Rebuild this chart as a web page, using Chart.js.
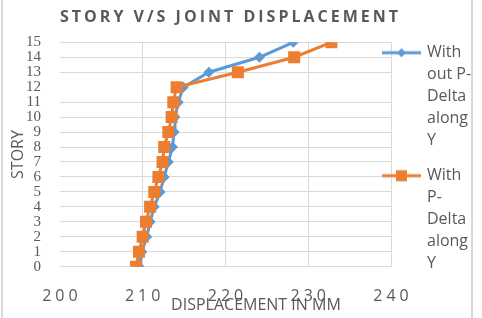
<!DOCTYPE html>
<html>
<head>
<meta charset="utf-8">
<script src="https://cdn.jsdelivr.net/npm/chart.js@4.4.1/dist/chart.umd.min.js"></script>
<style>
  html, body { margin: 0; padding: 0; background: #ffffff; }
  #wrap { position: relative; width: 482px; height: 318px; overflow: hidden; }
  #frame { position: absolute; left: 1px; top: -2px; width: 468px; height: 330px; border-left: 2px solid #d9d9d9; border-right: 2px solid #d9d9d9; }
  canvas { position: absolute; left: 0; top: 0; }
</style>
</head>
<body>
<div id="wrap">
  <div id="frame"></div>
  <canvas id="c" width="482" height="318"></canvas>
</div>
<script>
// ---- data ----
const stories = [0, 1, 2, 3, 4, 5, 6, 7, 8, 9, 10, 11, 12, 13, 14, 15];
const withoutPDelta = [209.6, 209.9, 210.5, 210.9, 211.4, 212.1, 212.6, 213.1, 213.6, 213.8, 213.9, 214.3, 214.9, 218.0, 224.1, 228.2];
const withPDelta    = [209.2, 209.55, 210.0, 210.4, 210.9, 211.4, 211.9, 212.4, 212.6, 213.1, 213.5, 213.7, 214.1, 221.5, 228.3, 232.8];
const seriesNames = ['With out P-Delta along Y', 'With P-Delta along Y'];
const legendLines = [['With', 'out P-', 'Delta', 'along', 'Y'], ['With', 'P-', 'Delta', 'along', 'Y']];
const xTicks = [200, 210, 220, 230, 240];
const yTicks = stories;
const chartTitle = 'STORY V/S JOINT DISPLACEMENT';
const xTitle = 'DISPLACEMENT IN MM';
const yTitle = 'STORY';

const BLUE = '#5B9BD5';
const ORANGE = '#ED7D31';
const GREY = '#595959';
const GRID = '#d9d9d9';
const TITLE_FONT = { family: 'Open Sans', size: 16, weight: 'bold' };

function toPoints(xs) { return xs.map((v, i) => ({ x: v, y: stories[i] })); }

function legendSymbol(color, kind) {
  const c = document.createElement('canvas');
  c.width = 39; c.height = 14;
  const g = c.getContext('2d');
  g.strokeStyle = color; g.lineWidth = 3;
  g.beginPath(); g.moveTo(0, 7); g.lineTo(39, 7); g.stroke();
  g.fillStyle = color;
  if (kind === 'diamond') {
    g.beginPath(); g.moveTo(19.5, 2.5); g.lineTo(24, 7); g.lineTo(19.5, 11.5); g.lineTo(15, 7); g.closePath(); g.fill();
  } else {
    g.fillRect(14, 1.5, 11, 11);
  }
  return c;
}
const symbols = [legendSymbol(BLUE, 'diamond'), legendSymbol(ORANGE, 'square')];

const styler = {
  id: 'styler',
  beforeDraw(chart) {
    const ctx = chart.ctx;
    const t = chart.titleBlock;
    if (t && !t._wrapped) {
      const d = t.draw.bind(t);
      t.draw = function (a) {
        ctx.save();
        ctx.letterSpacing = '0px';
        ctx.font = 'bold 16px "Open Sans"';
        const w0 = ctx.measureText(chartTitle).width;
        const sp = Math.max(0, (338 - w0) / (chartTitle.length - 1));
        ctx.letterSpacing = sp.toFixed(2) + 'px';
        ctx.translate(60 - t.left, 0);
        d(a);
        ctx.restore();
      };
      t._wrapped = true;
    }
    const sx = chart.scales.x;
    if (sx && !sx._wrapped) {
      const dl = sx.drawLabels.bind(sx);
      sx.drawLabels = function (a) { ctx.save(); ctx.letterSpacing = '4px'; ctx.translate(2, 0); dl(a); ctx.restore(); };
      const dt = sx.drawTitle.bind(sx);
      sx.drawTitle = function () { ctx.save(); ctx.translate(30.5, 0); dt(); ctx.restore(); };
      sx._wrapped = true;
    }
    const lg = chart.legend;
    if (lg && !lg._wrapped) {
      lg.draw = function () {
        if (!lg.options.display) return;
        ctx.save(); ctx.translate(-20, -10.6); lg._draw(); ctx.restore();
      };
      lg._wrapped = true;
    }
  }
};

new Chart(document.getElementById('c'), {
  type: 'line',
  data: {
    datasets: [
      {
        label: seriesNames[0],
        data: toPoints(withoutPDelta),
        borderColor: BLUE, backgroundColor: BLUE,
        borderWidth: 3, pointStyle: 'rectRot', pointRadius: 5.5, pointHoverRadius: 5.5,
        pointBorderWidth: 0, tension: 0, order: 1
      },
      {
        label: seriesNames[1],
        data: toPoints(withPDelta),
        borderColor: ORANGE, backgroundColor: ORANGE,
        borderWidth: 3, pointStyle: 'rect', pointRadius: 8.5, pointHoverRadius: 8.5,
        pointBorderWidth: 0, tension: 0, order: 0
      }
    ]
  },
  options: {
    responsive: false,
    animation: false,
    layout: { padding: { left: 2, right: 0, top: 0, bottom: 0 } },
    plugins: {
      tooltip: { enabled: false },
      title: {
        display: true, text: chartTitle, color: GREY, align: 'start',
        font: TITLE_FONT,
        padding: { top: 8, bottom: 15.1 }
      },
      legend: {
        position: 'right', align: 'start', fullSize: false, maxWidth: 91,
        labels: {
          usePointStyle: true, pointStyleWidth: 35, padding: 13,
          color: GREY, font: { family: 'Open Sans', size: 16, lineHeight: 1.375 },
          generateLabels(chart) {
            return seriesNames.map((name, i) => ({
              text: legendLines[i], datasetIndex: i, pointStyle: symbols[i],
              fillStyle: i ? ORANGE : BLUE, strokeStyle: i ? ORANGE : BLUE,
              lineWidth: 0, hidden: false, fontColor: GREY
            }));
          }
        }
      }
    },
    scales: {
      x: {
        type: 'linear', min: 200, max: 240,
        afterBuildTicks(s) { s.ticks = xTicks.map(v => ({ value: v })); },
        ticks: { color: GREY, font: { family: 'Open Sans', size: 16 }, padding: 20, maxRotation: 0 },
        grid: { drawTicks: false, color: (c) => (c.tick && c.tick.value === 200 ? 'rgba(0,0,0,0)' : GRID), lineWidth: 1 },
        border: { display: false },
        title: { display: true, text: xTitle, color: GREY, font: { family: 'Open Sans', size: 16 }, padding: { top: -30.5, bottom: 3.4 } }
      },
      y: {
        type: 'linear', min: 0, max: 15,
        afterBuildTicks(s) { s.ticks = yTicks.map(v => ({ value: v })); },
        ticks: { color: GREY, font: { family: 'Liberation Serif', size: 15 }, padding: 19, autoSkip: false },
        grid: { drawTicks: false, color: (c) => (c.tick && c.tick.value === 12 ? 'rgba(0,0,0,0)' : GRID), lineWidth: 1 },
        border: { display: false },
        title: { display: true, text: yTitle, color: GREY, font: { family: 'Open Sans', size: 16 }, padding: { top: 7, bottom: -21.3 } }
      }
    }
  },
  plugins: [styler]
});
</script>
</body>
</html>
